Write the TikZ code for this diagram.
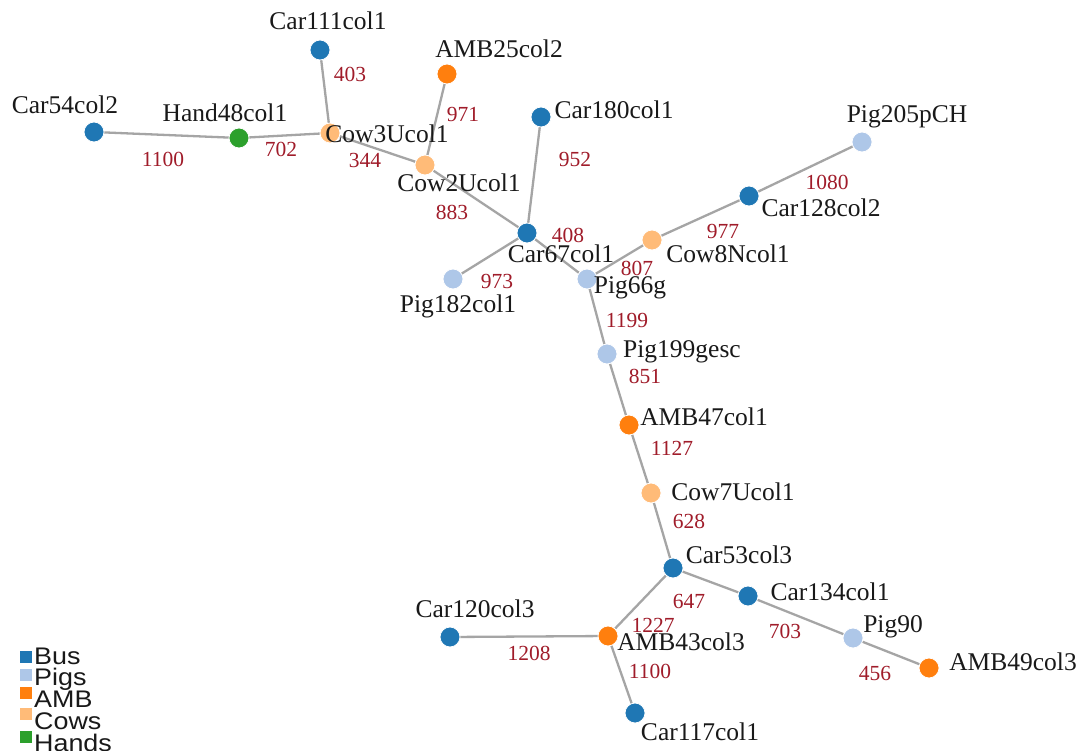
\documentclass[tikz,border=0pt]{standalone}
\usepackage{fontspec}
\setmainfont{Liberation Serif}
\newfontfamily\legendfont{Liberation Sans}
\usetikzlibrary{backgrounds}
\definecolor{busc}{RGB}{31,119,180}
\definecolor{pigc}{RGB}{174,199,232}
\definecolor{ambc}{RGB}{255,127,14}
\definecolor{cowc}{RGB}{255,187,120}
\definecolor{handc}{RGB}{44,160,44}
\definecolor{edgec}{RGB}{165,165,165}
\definecolor{numc}{RGB}{160,28,42}
\definecolor{txtc}{RGB}{25,25,25}
\tikzset{
  vert/.style={circle,minimum size=20pt,inner sep=0pt,draw=white,line width=0.8pt},
  bus/.style={vert,fill=busc},
  pig/.style={vert,fill=pigc},
  amb/.style={vert,fill=ambc},
  cow/.style={vert,fill=cowc},
  hand/.style={vert,fill=handc},
  link/.style={draw=edgec,line width=2.3pt},
  lbl/.style={anchor=base,inner sep=0pt,text=txtc,font=\fontsize{25.5}{27}\selectfont},
  num/.style={anchor=base,inner sep=0pt,text=numc,font=\fontsize{21.5}{23}\selectfont},
  legsq/.style={minimum size=12pt,inner sep=0pt},
  legtx/.style={anchor=base west,inner sep=0pt,text=txtc,font=\legendfont\fontsize{24}{25}\selectfont}
}
\begin{document}
\begin{tikzpicture}[x=1pt,y=-1pt]
\useasboundingbox (0,0) rectangle (1083,751);
% vertices
\node[bus]  (car111) at (320,50) {};
\node[amb]  (amb25)  at (447,74) {};
\node[bus]  (car54)  at (94,132) {};
\node[hand] (hand48) at (239,138) {};
\node[cow]  (cow3u)  at (330,133) {};
\node[cow]  (cow2u)  at (425,165) {};
\node[bus]  (car180) at (541,117) {};
\node[pig]  (pig205) at (862,142) {};
\node[bus]  (car128) at (749,196) {};
\node[bus]  (car67)  at (527,233) {};
\node[cow]  (cow8n)  at (652,240) {};
\node[pig]  (pig182) at (453,279) {};
\node[pig]  (pig66)  at (587,279) {};
\node[pig]  (pig199) at (607,354) {};
\node[amb]  (amb47)  at (629,425) {};
\node[cow]  (cow7u)  at (651,493) {};
\node[bus]  (car53)  at (673,568) {};
\node[bus]  (car134) at (748,596) {};
\node[pig]  (pig90)  at (853,638) {};
\node[amb]  (amb49)  at (929,668) {};
\node[bus]  (car120) at (450,637) {};
\node[amb]  (amb43)  at (608,636) {};
\node[bus]  (car117) at (635,713) {};
% edges
\begin{pgfonlayer}{background}
\fill[white] (0,0) rectangle (1083,751);
\draw[link] (car54.center) -- (hand48.center);
\draw[link] (hand48.center) -- (cow3u.center);
\draw[link] (car111.center) -- (cow3u.center);
\draw[link] (amb25.center) -- (cow2u.center);
\draw[link] (cow3u.center) -- (cow2u.center);
\draw[link] (cow2u.center) -- (car67.center);
\draw[link] (car180.center) -- (car67.center);
\draw[link] (car67.center) -- (pig182.center);
\draw[link] (car67.center) -- (pig66.center);
\draw[link] (pig66.center) -- (cow8n.center);
\draw[link] (cow8n.center) -- (car128.center);
\draw[link] (car128.center) -- (pig205.center);
\draw[link] (pig66.center) -- (pig199.center);
\draw[link] (pig199.center) -- (amb47.center);
\draw[link] (amb47.center) -- (cow7u.center);
\draw[link] (cow7u.center) -- (car53.center);
\draw[link] (car53.center) -- (amb43.center);
\draw[link] (car53.center) -- (car134.center);
\draw[link] (car134.center) -- (pig90.center);
\draw[link] (pig90.center) -- (amb49.center);
\draw[link] (amb43.center) -- (car120.center);
\draw[link] (amb43.center) -- (car117.center);
\end{pgfonlayer}
% vertex labels
\node[lbl] (tcar111) at (328,30) {Car111col1};
\node[lbl] (tamb25)  at (499,58) {AMB25col2};
\node[lbl] (tcar54)  at (65,114) {Car54col2};
\node[lbl] (thand48) at (225,122) {Hand48col1};
\node[lbl] (tcow3u)  at (387,143) {Cow3Ucol1};
\node[lbl] (tcow2u)  at (459,192) {Cow2Ucol1};
\node[lbl] (tcar180) at (614,119) {Car180col1};
\node[lbl] (tpig205) at (907,123) {Pig205pCH};
\node[lbl] (tcar128) at (821,217) {Car128col2};
\node[lbl] (tcar67)  at (561,262) {Car67col1};
\node[lbl] (tcow8n)  at (728,262) {Cow8Ncol1};
\node[lbl] (tpig182) at (458,312) {Pig182col1};
\node[lbl] (tpig66)  at (630,293) {Pig66g};
\node[lbl] (tpig199) at (682,357) {Pig199gesc};
\node[lbl] (tamb47)  at (704,425) {AMB47col1};
\node[lbl] (tcow7u)  at (733,500) {Cow7Ucol1};
\node[lbl] (tcar53)  at (739,563) {Car53col3};
\node[lbl] (tcar134) at (830,600) {Car134col1};
\node[lbl] (tpig90)  at (893,632) {Pig90};
\node[lbl] (tamb49)  at (1013,670) {AMB49col3};
\node[lbl] (tcar120) at (475,617) {Car120col3};
\node[lbl] (tamb43)  at (681,650) {AMB43col3};
\node[lbl] (tcar117) at (700,740) {Car117col1};
% edge weights
\node[num] (w1)  at (163,167) {1100};
\node[num] (w2)  at (281,157) {702};
\node[num] (w3)  at (350,82) {403};
\node[num] (w4)  at (463,122) {971};
\node[num] (w5)  at (365,168) {344};
\node[num] (w6)  at (575,167) {952};
\node[num] (w7)  at (452,220) {883};
\node[num] (w8)  at (568,243) {408};
\node[num] (w9)  at (497,288) {973};
\node[num] (w10) at (637,275) {807};
\node[num] (w11) at (723,238) {977};
\node[num] (w12) at (827,190) {1080};
\node[num] (w13) at (627,327) {1199};
\node[num] (w14) at (645,383) {851};
\node[num] (w15) at (672,455) {1127};
\node[num] (w16) at (689,528) {628};
\node[num] (w17) at (689,608) {647};
\node[num] (w18) at (653,632) {1227};
\node[num] (w19) at (785,638) {703};
\node[num] (w20) at (875,680) {456};
\node[num] (w21) at (529,660) {1208};
\node[num] (w22) at (650,678) {1100};
% legend
\node[legsq,fill=busc]  (lq1) at (25.5,656.5) {};
\node[legsq,fill=pigc]  (lq2) at (25.5,675) {};
\node[legsq,fill=ambc]  (lq3) at (25.5,693) {};
\node[legsq,fill=cowc]  (lq4) at (25.5,714) {};
\node[legsq,fill=handc] (lq5) at (25.5,737) {};
\node[legtx] (lt1) at (34,664) {\scalebox{1.12}[1]{Bus}};
\node[legtx] (lt2) at (34,685) {\scalebox{1.12}[1]{Pigs}};
\node[legtx] (lt3) at (34,707) {\scalebox{1.12}[1]{AMB}};
\node[legtx] (lt4) at (34,729) {\scalebox{1.12}[1]{Cows}};
\node[legtx] (lt5) at (34,751) {\scalebox{1.12}[1]{Hands}};
\end{tikzpicture}
\end{document}
